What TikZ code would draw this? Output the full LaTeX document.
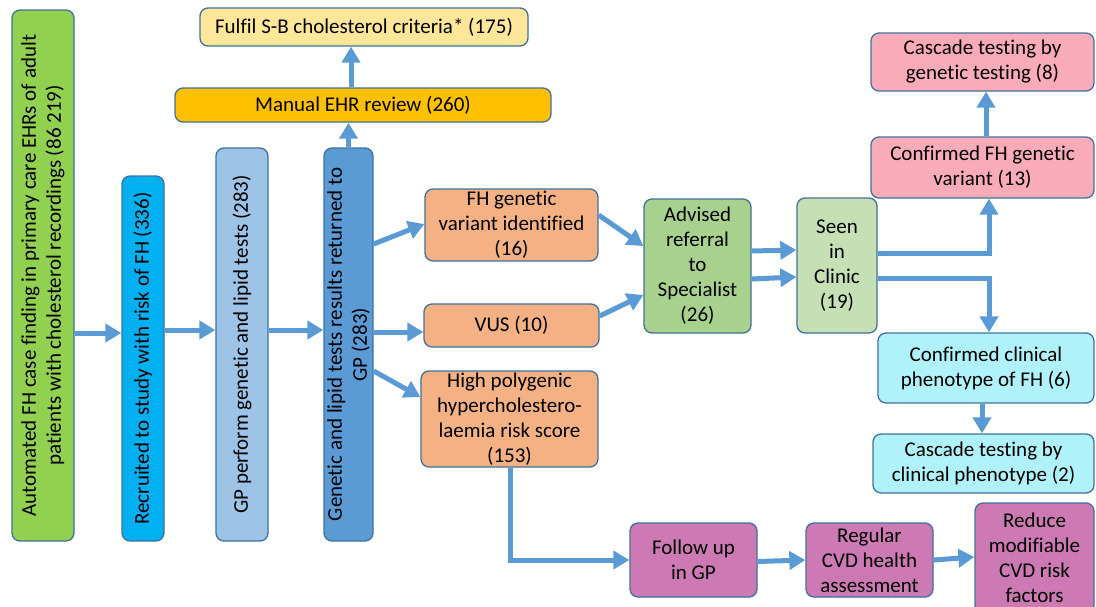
\documentclass[tikz,border=0pt]{standalone}
\usepackage{fontspec}
\setmainfont{Carlito}[Ligatures={NoCommon}]
\usetikzlibrary{arrows.meta}
\definecolor{cgreen}{HTML}{92D050}
\definecolor{cblue}{HTML}{00B0F0}
\definecolor{clb}{HTML}{9DC3E6}
\definecolor{cmb}{HTML}{5B9BD5}
\definecolor{cman}{HTML}{FFC000}
\definecolor{cful}{HTML}{FFE699}
\definecolor{corange}{HTML}{F4B183}
\definecolor{cadv}{HTML}{A9D18E}
\definecolor{cseen}{HTML}{C5E0B4}
\definecolor{cpink}{HTML}{F9ABBA}
\definecolor{ccyan}{HTML}{AFF2FA}
\definecolor{cpurple}{HTML}{CC79B4}
\definecolor{bordc}{HTML}{41719C}
\definecolor{arrc}{HTML}{5B9BD5}
\begin{document}
\begin{tikzpicture}[x=1pt,y=-1pt,
  box/.style={draw=bordc, line width=1.3pt, rounded corners=8pt, inner sep=0pt, align=center,
    font=\fontsize{21}{25}\selectfont},
  arr/.style={draw=arrc, line width=5pt, -{Triangle[length=16pt,width=18pt]}}]
\useasboundingbox (0,0) rectangle (1096,606);
\fill[white] (0,0) rectangle (1096,606);
\clip (0,0) rectangle (1096,606);
% vertical boxes
\node[box, fill=cgreen, rotate=90, minimum width=531pt, minimum height=62pt] (green) at (43,275.5)
  {Automated FH case finding in primary care EHRs of adult\\patients with cholesterol recordings (86 219)};
\node[box, fill=cblue, rotate=90, minimum width=365pt, minimum height=42pt] (recr) at (143,358.5)
  {Recruited to study with risk of FH (336)};
\node[box, fill=clb, rotate=90, minimum width=393pt, minimum height=52pt] (gpt) at (242,344.5)
  {GP perform genetic and lipid tests (283)};
\node[box, fill=cmb, rotate=90, minimum width=393pt, minimum height=49pt] (ret) at (348.5,344.5)
  {Genetic and lipid tests results returned to\\GP (283)};
% top boxes
\node[box, fill=cman, minimum width=376pt, minimum height=34pt] (man) at (363,105) {Manual EHR review (260)};
\node[box, fill=cful, minimum width=328pt, minimum height=38pt] (ful) at (364,27) {Fulfil S-B cholesterol criteria* (175)};
% orange
\node[box, fill=corange, minimum width=173pt, minimum height=72pt] (fhv) at (511.5,225)
  {FH genetic\\variant identified\\(16)};
\node[box, fill=corange, minimum width=175pt, minimum height=43pt] (vus) at (511.5,325.5) {VUS (10)};
\node[box, fill=corange, minimum width=177pt, minimum height=96pt] (hp) at (509.5,419)
  {High polygenic\\hypercholestero-\\laemia risk score\\(153)};
% green middle
\node[box, fill=cadv, minimum width=107pt, minimum height=134pt] (adv) at (697.5,266)
  {Advised\\referral\\to\\Specialist\\(26)};
\node[box, fill=cseen, minimum width=80pt, minimum height=135pt] (seen) at (837,265.5)
  {Seen\\in\\Clinic\\(19)};
% right
\node[box, fill=cpink, minimum width=223pt, minimum height=58pt] (cgen) at (982.5,62)
  {Cascade testing by\\genetic testing (8)};
\node[box, fill=cpink, minimum width=223pt, minimum height=61pt] (cfh) at (982.5,167.5)
  {Confirmed FH genetic\\variant (13)};
\node[box, fill=ccyan, minimum width=216pt, minimum height=70pt] (cclin) at (986,368)
  {Confirmed clinical\\phenotype of FH (6)};
\node[box, fill=ccyan, minimum width=221pt, minimum height=59pt] (cascclin) at (983.5,463.5)
  {Cascade testing by\\clinical phenotype (2)};
% bottom
\node[box, fill=cpurple, minimum width=127pt, minimum height=74pt] (fol) at (693.5,560) {Follow up\\in GP};
\node[box, fill=cpurple, minimum width=127pt, minimum height=74pt] (reg) at (869.5,560)
  {Regular\\CVD health\\assessment};
\node[box, fill=cpurple, minimum width=119pt, minimum height=110pt] (red) at (1034.5,558)
  {Reduce\\modifiable\\CVD risk\\factors};
% level coordinates
\coordinate (y333) at (0,333);
\coordinate (y330) at (0,330);
\coordinate (x351) at (351,0);
\coordinate (x989) at (989,0);
\coordinate (x986) at (986,0);
\coordinate (x982) at (982,0);
\coordinate (x510) at (510,0);
% connectors
\draw[arr] (green.south |- y333) -- (recr.north |- y333);
\draw[arr] (recr.south |- y330) -- (gpt.north |- y330);
\draw[arr] (gpt.south |- y330) -- (ret.north |- y330);
\draw[arr] (ret.east) -- (ret.east |- man.south);
\draw[arr] (man.north -| x351) -- (ful.south -| x351);
\draw[arr] ([yshift=100.5pt]ret.south) -- ([yshift=1pt]fhv.west);
\draw[arr] ([yshift=12.5pt]ret.south) -- ([yshift=-6.5pt]vus.west);
\draw[arr] ([yshift=-26.5pt]ret.south) -- ([yshift=22pt]hp.west);
\draw[arr] ([yshift=10pt]fhv.east) -- ([yshift=20pt]adv.west);
\draw[arr] ([yshift=9.5pt]vus.east) -- ([yshift=-29pt]adv.west);
\draw[arr] ([yshift=15pt]adv.east) -- ([yshift=15.5pt]seen.west);
\draw[arr] ([yshift=-13pt]adv.east) -- ([yshift=-11.5pt]seen.west);
\draw[arr] ([yshift=12.5pt]seen.east) -| (cfh.south -| x989);
\draw[arr] ([yshift=-12.5pt]seen.east) -| (cclin.north -| x989);
\draw[arr] (cfh.north -| x986) -- (cgen.south -| x986);
\draw[arr] (cclin.south -| x982) -- (cascclin.north -| x982);
\draw[arr] (hp.south -| x510) |- (fol.west);
\draw[arr] ([yshift=-1.5pt]fol.east) -- (reg.west);
\draw[arr] (reg.east) -- ([yshift=1pt]red.west);
\end{tikzpicture}
\end{document}
